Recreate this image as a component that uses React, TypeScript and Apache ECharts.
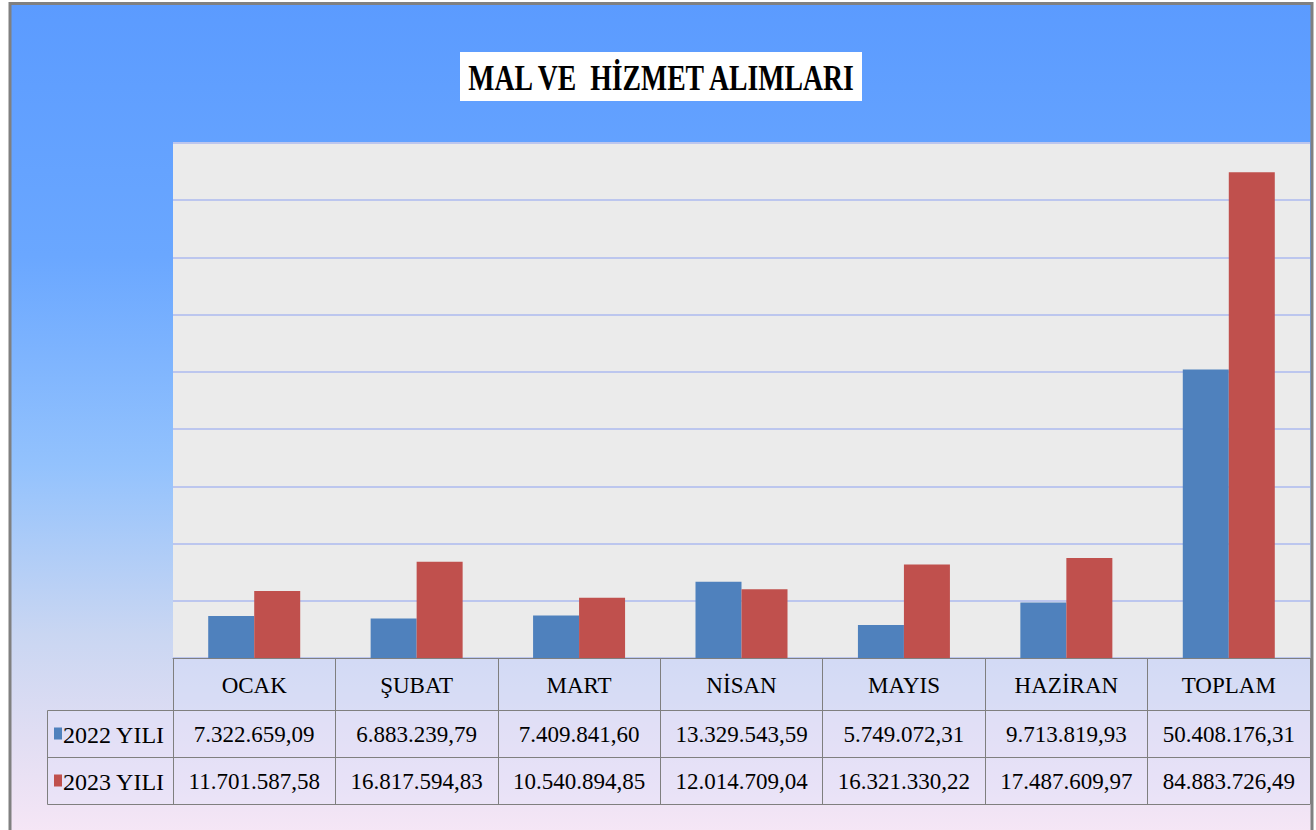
import React, { useEffect, useRef } from "react";
import * as echarts from "echarts";

const categories = ["OCAK", "ŞUBAT", "MART", "NİSAN", "MAYIS", "HAZİRAN", "TOPLAM"];
const seriesNames = ["2022 YILI", "2023 YILI"];
const seriesColors = ["#4f81bd", "#c0504d"];
const values2022 = [7322659.09, 6883239.79, 7409841.6, 13329543.59, 5749072.31, 9713819.93, 50408176.31];
const values2023 = [11701587.58, 16817594.83, 10540894.85, 12014709.04, 16321330.22, 17487609.97, 84883726.49];
const titleText = "MAL VE  HİZMET ALIMLARI";

function fmtTR(v: number): string {
  const fixed = v.toFixed(2);
  const [intPart, dec] = fixed.split(".");
  const withDots = intPart.replace(/\B(?=(\d{3})+(?!\d))/g, ".");
  return withDots + "," + dec;
}

const FONT = "Liberation Serif";
const LINE = "#7f7f7f";

export default function App() {
  const ref = useRef<HTMLDivElement>(null);
  useEffect(() => {
    document.body.style.margin = "0";
    if (!ref.current) return;
    const chart = echarts.init(ref.current, undefined, { renderer: "svg" });
    const gridLeft = 173;
    const gridRight = 1310;
    const gridTop = 143;
    const gridBottom = 658;
    const row1 = 710;
    const row2 = 757;
    const row3 = 804;
    const labelLeft = 47;

    const tableAxis = (data: string[], offset: number, tickLen: number, showTick: boolean) => ({
      type: "category",
      data,
      position: "bottom",
      offset,
      gridIndex: 0,
      boundaryGap: true,
      axisLine: { show: true, lineStyle: { color: LINE, width: 1 } },
      axisTick: { show: showTick, length: tickLen, interval: 0, alignWithLabel: false, lineStyle: { color: LINE, width: 1 } },
      axisLabel: { show: false },
      splitLine: { show: false },
    });

    const baseGraphics: any[] = [
      {
        type: "rect",
        z: -100,
        shape: { x: 10, y: 3.5, width: 1302, height: 840 },
        style: {
          fill: new echarts.graphic.LinearGradient(0, 0, 0, 1, [
            { offset: 0, color: "#5b9bff" },
            { offset: 0.3, color: "#6aa7ff" },
            { offset: 0.55, color: "#93c2fd" },
            { offset: 0.75, color: "#c9d6f2" },
            { offset: 0.88, color: "#e2def3" },
            { offset: 1, color: "#f8e7f6" },
          ]),
          stroke: "#808080",
          lineWidth: 3,
        },
      },
      {
        type: "rect",
        z: -50,
        shape: { x: gridLeft, y: gridBottom, width: gridRight - gridLeft, height: row1 - gridBottom },
        style: { fill: "rgba(215,222,248,0.45)" },
      },
      {
        type: "rect",
        z: -50,
        shape: { x: labelLeft, y: row1, width: gridRight - labelLeft, height: row3 - row1 },
        style: { fill: "rgba(228,226,250,0.45)" },
      },
      {
        type: "rect",
        z: 5,
        shape: { x: labelLeft + 0.5, y: row1 + 0.5, width: gridLeft - labelLeft, height: row3 - row1 },
        style: { fill: "none", stroke: LINE, lineWidth: 1 },
      },
      {
        type: "line",
        z: 5,
        shape: { x1: labelLeft, y1: row2 + 0.5, x2: gridLeft, y2: row2 + 0.5 },
        style: { stroke: LINE, lineWidth: 1 },
      },
      {
        type: "rect",
        z: 10,
        shape: { x: 460, y: 52, width: 402, height: 49 },
        style: { fill: "#ffffff" },
      },
      {
        type: "text",
        z: 11,
        x: 661,
        y: 78,
        scaleX: 0.77,
        style: {
          text: titleText,
          fontFamily: FONT,
          fontWeight: "bold",
          fontSize: 36,
          fill: "#000",
          align: "center",
          verticalAlign: "middle",
        },
      },
    ];

    chart.setOption({
      animation: false,
      backgroundColor: "#ffffff",
      graphic: baseGraphics,
      grid: {
        left: gridLeft,
        right: 1316 - gridRight,
        top: gridTop,
        bottom: 830 - gridBottom,
        show: true,
        backgroundColor: "#ebebeb",
        borderWidth: 0,
      },
      xAxis: [
        tableAxis(categories, 0, row1 - gridBottom, true),
        tableAxis(categories, row1 - gridBottom, row2 - row1, true),
        tableAxis(categories, row2 - gridBottom, row3 - row2, true),
        tableAxis(categories, row3 - gridBottom, 0, false),
      ],
      yAxis: {
        type: "value",
        min: 0,
        max: 90000000,
        interval: 10000000,
        axisLabel: { show: false },
        axisLine: { show: false },
        axisTick: { show: false },
        splitLine: { show: true, lineStyle: { color: "#bcc6ee", width: 2 } },
      },
      series: [
        {
          name: seriesNames[0],
          type: "bar",
          xAxisIndex: 0,
          data: values2022,
          barWidth: 46,
          barGap: "0%",
          itemStyle: { color: seriesColors[0] },
        },
        {
          name: seriesNames[1],
          type: "bar",
          xAxisIndex: 0,
          data: values2023,
          barWidth: 46,
          barGap: "0%",
          itemStyle: { color: seriesColors[1] },
        },
      ],
    });

    // table texts placed with the category axis' own scale
    const cellText = (text: string, x: number, y: number, size: number, align = "center") => ({
      type: "text",
      z: 20,
      x,
      y,
      style: { text, fontFamily: FONT, fontSize: size, fill: "#000", align, verticalAlign: "middle" },
    });
    const tableGraphics: any[] = [];
    const rows = [values2022, values2023];
    const headerY = (gridBottom + row1) / 2 + 1;
    const rowYs = [(row1 + row2) / 2 + 1, (row2 + row3) / 2 + 1];
    categories.forEach((c, i) => {
      const px = chart.convertToPixel({ xAxisIndex: 0 }, c) as number;
      tableGraphics.push(cellText(c, px, headerY, 23));
      rows.forEach((vals, r) => tableGraphics.push(cellText(fmtTR(vals[i]), px, rowYs[r], 23)));
    });
    seriesNames.forEach((name, r) => {
      tableGraphics.push({
        type: "rect",
        z: 20,
        shape: { x: 54, y: rowYs[r] - 7, width: 8, height: 12 },
        style: { fill: seriesColors[r] },
      });
      tableGraphics.push(cellText(name, 63, rowYs[r], 24, "left"));
    });
    chart.setOption({ graphic: [...baseGraphics, ...tableGraphics] });

    return () => chart.dispose();
  }, []);
  return <div ref={ref} style={{ width: 1316, height: 830 }} />;
}
